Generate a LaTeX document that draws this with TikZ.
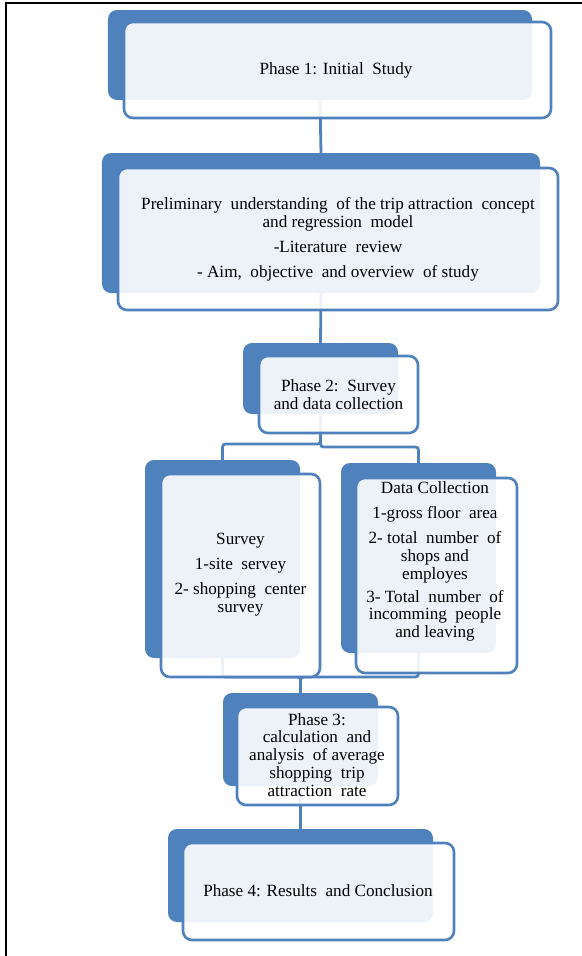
\documentclass[tikz,border=0pt]{standalone}
\usepackage{fontspec}
\setmainfont{Liberation Serif}
\definecolor{blu}{HTML}{4F81BD}
\begin{document}
\begin{tikzpicture}[x=1bp,y=-1bp,
  back/.style={fill=blu, draw=none, rounded corners=9bp, inner sep=0pt, outer sep=0pt},
  front/.style={draw=blu, line width=2.6bp, fill=white, fill opacity=0.9, rounded corners=9bp, inner sep=0pt, outer sep=0pt},
  txt/.style={font=\fontsize{17.2}{18}\selectfont, align=center, text=black, inner sep=0pt},
  conn/.style={draw=blu, line width=2.8bp, rounded corners=3bp},
  frame/.style={draw=black, line width=2.6bp}]
\useasboundingbox (0,0) rectangle (582,956);
% frame
\coordinate (fa) at (6,956);
\coordinate (fb) at (6,3);
\coordinate (fc) at (582,3);
\draw[frame] (fa) -- (fb) -- (fc);
% back boxes
\node[back, minimum width=424bp, minimum height=90bp] (b1) at (320,55) {};
\node[back, minimum width=438bp, minimum height=140bp] (b2) at (321,223) {};
\node[back, minimum width=155bp, minimum height=71bp] (b3) at (320.5,378.5) {};
\node[back, minimum width=155bp, minimum height=198bp] (b4) at (222.5,559) {};
\node[back, minimum width=155bp, minimum height=190bp] (b5) at (418.5,558) {};
\node[back, minimum width=155bp, minimum height=93bp] (b6) at (300.5,739.5) {};
\node[back, minimum width=265bp, minimum height=93bp] (b7) at (300.5,875.5) {};
% connectors
\coordinate (j1) at (320.5,444);
\coordinate (j2) at (320.5,447);
\coordinate (j3) at (300.5,677);
\draw[conn] (b1.south) -- (b2.north);
\draw[conn] (b2.south) -- (b3.north);
\draw[conn] (b3.south) -- (j1) -| (b4.north);
\draw[conn] (b3.south) -- (j2) -| (b5.north);
\draw[conn] (b4.south) |- (j3) -- (b6.north);
\draw[conn] (b5.south) |- (j3) -- (b6.north);
\draw[conn] (b6.south) -- (b7.north);
% front boxes
\node[front, minimum width=427bp, minimum height=96bp] (f1) at (337.5,70) {};
\node[front, minimum width=440bp, minimum height=142bp] (f2) at (338,239) {};
\node[front, minimum width=159bp, minimum height=77bp] (f3) at (338.5,394.5) {};
\node[front, minimum width=159bp, minimum height=203bp] (f4) at (240.5,575.5) {};
\node[front, minimum width=161bp, minimum height=195bp] (f5) at (436.5,575.5) {};
\node[front, minimum width=161bp, minimum height=98bp] (f6) at (317.5,756) {};
\node[front, minimum width=271bp, minimum height=97bp] (f7) at (318.5,891.5) {};
% texts
\node[txt] (t1) at (336,70) {Phase 1: Initial\ \ Study};
\node[txt] (t2) at (338,239) {Preliminary\ \ understanding\ \ of the trip attraction\ \ concept\\and regression\ \ model\\[7bp]-Literature\ \ review\\[7bp]- Aim,\ \ objective\ \ and overview\ \ of study};
\node[txt] (t3) at (338.5,394.5) {Phase 2:\ \ Survey\\and data collection};
\node[txt] (t4) at (240.5,575) {Survey\\[7bp]1-site\ \ servey\\[7bp]2- shopping\ \ center\\survey};
\node[txt] (t5) at (435,561.5) {Data Collection\\[7bp]1-gross floor\ \ area\\[7bp]2- total\ \ number\ \ of\\shops and\\employes\\[5bp]3- Total\ \ number\ \ of\\incomming\ \ people\\and leaving};
\node[txt] (t6) at (317,755) {Phase 3:\\calculation\ \ and\\analysis\ \ of average\\shopping\ \ trip\\attraction\ \ rate};
\node[txt] (t7) at (318,891) {Phase 4: Results\ \ and Conclusion};
\end{tikzpicture}
\end{document}
